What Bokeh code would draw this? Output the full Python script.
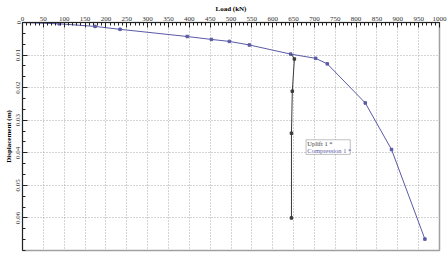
from bokeh.plotting import figure
from bokeh.models import Range1d, FixedTicker, LinearAxis, BoxAnnotation, Label
from bokeh.embed import file_html
from bokeh.resources import INLINE

# Data
comp_load = [0, 88, 174, 234, 395, 453, 496, 544, 643, 703, 731, 822, 885, 965]
comp_disp = [0, 0.0004, 0.0012, 0.0021, 0.0043, 0.0052, 0.0058, 0.0069, 0.0097,
             0.0110, 0.0127, 0.0247, 0.0390, 0.0665]
uplift_load = [645, 652, 647, 645, 645]
uplift_disp = [0.0098, 0.0112, 0.0211, 0.0340, 0.0600]

x_ticks = [0, 50, 100, 150, 200, 250, 300, 350, 400, 450, 500, 550, 600, 650,
           700, 750, 800, 850, 900, 950, 1000]
x_labels = [str(v) for v in x_ticks]
y_ticks = [0, 0.01, 0.02, 0.03, 0.04, 0.05, 0.06]
y_labels = ["0", "0.01", "0.02", "0.03", "0.04", "0.05", "0.06"]

FONT = "Liberation Serif"
COMP_COLOR = "#5a5aa6"
UP_COLOR = "#3a3a3a"

p = figure(width=448, height=263, output_backend="svg", toolbar_location=None,
           x_range=Range1d(0, 1000), y_range=Range1d(0.07, 0),
           x_axis_location=None, y_axis_location=None,
           min_border_left=22, min_border_right=9, min_border_top=22,
           min_border_bottom=13)
p.background_fill_color = "white"
p.border_fill_color = "white"
p.outline_line_color = "#a0a0a0"
p.outline_line_width = 1.5

xminor = [v for v in range(0, 1001, 10)]
yminor = [i * 0.01 / 3 for i in range(0, 22)]

xa = LinearAxis(ticker=FixedTicker(ticks=x_ticks, minor_ticks=xminor),
                major_label_overrides={v: l for v, l in zip(x_ticks, x_labels)},
                axis_label="Load (kN)")
ya = LinearAxis(ticker=FixedTicker(ticks=y_ticks, minor_ticks=yminor),
                major_label_overrides={v: l for v, l in zip(y_ticks, y_labels)},
                axis_label="Displacement (m)")
for ax in (xa, ya):
    ax.major_label_text_font = FONT
    ax.major_label_text_font_size = "7px"
    ax.major_label_text_color = "#333333"
    ax.axis_label_text_font = FONT
    ax.axis_label_text_font_size = "7px"
    ax.axis_label_text_font_style = "bold"
    ax.axis_label_text_color = "#000000"
    ax.major_tick_in = 5
    ax.major_tick_out = 0
    ax.minor_tick_in = 3
    ax.minor_tick_out = 0
    ax.axis_line_color = "#222222"
    ax.major_tick_line_color = "#222222"
    ax.minor_tick_line_color = "#222222"
    ax.major_label_standoff = 2
    ax.axis_label_standoff = 1
ya.major_label_orientation = "vertical"
p.add_layout(xa, "above")
p.add_layout(ya, "left")

p.xgrid.ticker = FixedTicker(ticks=x_ticks)
p.ygrid.ticker = FixedTicker(ticks=y_ticks)
for g in (p.xgrid, p.ygrid):
    g.grid_line_color = "#a8a8a8"
    g.grid_line_dash = "1 2"
    g.grid_line_width = 1

p.line(comp_load, comp_disp, line_color=COMP_COLOR, line_width=1)
p.scatter(comp_load[1:], comp_disp[1:], marker="square", size=2.5,
          fill_color=COMP_COLOR, line_color=COMP_COLOR)
p.line(uplift_load, uplift_disp, line_color=UP_COLOR, line_width=1)
p.scatter(uplift_load[1:], uplift_disp[1:], marker="square", size=2.5,
          fill_color=UP_COLOR, line_color=UP_COLOR)

# legend box
p.add_layout(BoxAnnotation(left=680, right=786, top=0.0360, bottom=0.0405,
                           fill_color="white", fill_alpha=1,
                           line_color="#333333", line_width=1))
p.add_layout(Label(x=683, y=0.0372, text="Uplift 1 *", text_font=FONT,
                   text_font_size="6.5px", text_color=UP_COLOR,
                   text_baseline="middle"))
p.add_layout(Label(x=683, y=0.0393, text="Compression 1 *", text_font=FONT,
                   text_font_size="6.5px", text_color=COMP_COLOR,
                   text_baseline="middle"))

open("out.html", "w").write(file_html(p, INLINE))
